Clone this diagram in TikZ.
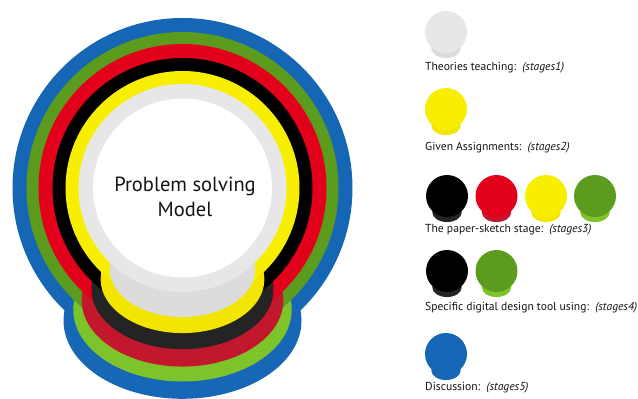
\documentclass[tikz,border=0pt]{standalone}
\usepackage{fontspec}
\setmainfont{PT Sans}

% stage colours: cap colour and skirt colour
\definecolor{capgray}{HTML}{E7E7E7}
\definecolor{skirtgray}{HTML}{DCDCDC}
\definecolor{capyellow}{HTML}{F8EE00}
\definecolor{skirtyellow}{HTML}{F2E600}
\definecolor{capblack}{HTML}{000000}
\definecolor{skirtblack}{HTML}{242424}
\definecolor{capred}{HTML}{E3001B}
\definecolor{skirtred}{HTML}{C3172D}
\definecolor{capgreen}{HTML}{5B9B1E}
\definecolor{skirtgreen}{HTML}{7DC42B}
\definecolor{capblue}{HTML}{1566B4}
\definecolor{skirtblue}{HTML}{1668B6}
\definecolor{inktext}{HTML}{151515}

% a round cap with a flatter skirt beneath it:
% #1,#2 centre, #3 radius, #4 cap colour, #5 skirt colour
\newcommand{\capskirt}[5]{%
  \fill[#5] ({#1},{#2+0.78*#3}) ellipse [x radius={0.70*#3}, y radius={0.46*#3}];
  \fill[#4] ({#1},{#2}) circle [radius={#3}];
}

\tikzset{
  legendtext/.style={anchor=base west, inner sep=0pt, text=inktext, font=\fontsize{11.6}{13}\selectfont},
  centretext/.style={align=center, text=inktext, inner sep=0pt, font=\fontsize{20.5}{25}\selectfont}
}

\begin{document}
\begin{tikzpicture}[x=1pt,y=-1pt]
\useasboundingbox (0,0) rectangle (638,399);
\fill[white] (0,0) rectangle (638,399);

% nested stages, outermost first
\capskirt{182.5}{188}{170}{capblue}{skirtblue}
\capskirt{182.5}{188}{156}{capgreen}{skirtgreen}
\capskirt{182.5}{188}{144}{capred}{skirtred}
\capskirt{182.5}{188}{130}{capblack}{skirtblack}
\capskirt{182.5}{188}{117}{capyellow}{skirtyellow}
\capskirt{182.5}{188}{104}{capgray}{skirtgray}
\fill[white] (182.5,188) circle [radius=89.5];

\node[centretext] (model) at (185,197) {Problem solving\\Model};

% legend
\capskirt{446}{32}{21}{capgray}{skirtgray}
\node[legendtext] (s1) at (425,70) {Theories teaching:\ \ \textit{(stages1)}};

\capskirt{446}{109}{21}{capyellow}{skirtyellow}
\node[legendtext] (s2) at (425,150) {Given Assignments:\ \ \textit{(stages2)}};

\capskirt{447}{196}{21}{capblack}{skirtblack}
\capskirt{496.5}{196}{21}{capred}{skirtred}
\capskirt{546}{196}{21}{capyellow}{skirtyellow}
\capskirt{595}{196}{21}{capgreen}{skirtgreen}
\node[legendtext] (s3) at (425,232) {The paper-sketch stage:\ \ \textit{(stages3)}};

\capskirt{447}{271}{21}{capblack}{skirtblack}
\capskirt{496.5}{271}{21}{capgreen}{skirtgreen}
\node[legendtext] (s4) at (425,310) {Specific digital design tool using:\ \ \textit{(stages4)}};

\capskirt{446}{354}{21}{capblue}{skirtblue}
\node[legendtext] (s5) at (425,390) {Discussion:\ \ \textit{(stages5)}};
\end{tikzpicture}
\end{document}
